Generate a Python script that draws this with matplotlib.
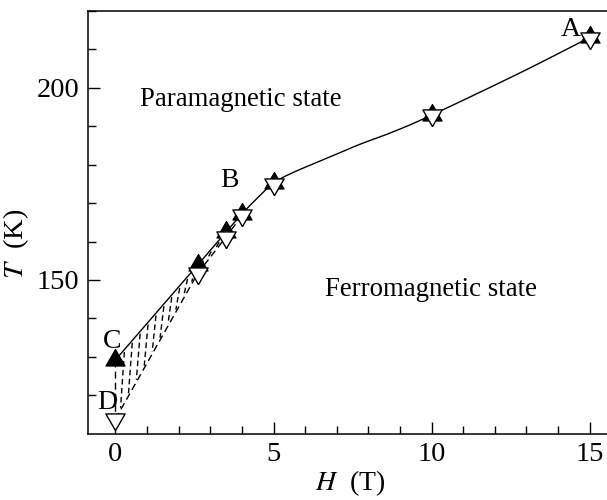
import matplotlib
matplotlib.use('Agg')
import matplotlib.pyplot as plt
import numpy as np

plt.rcParams['font.family'] = ['Liberation Serif', 'DejaVu Serif']
plt.rcParams['mathtext.fontset'] = 'stix'

# data
H_filled = [0.0, 2.6, 3.5, 4.0, 5.0, 10.0, 15.0]
T_filled = [129.2, 153.9, 162.5, 167.2, 175.2, 193.0, 213.2]
H_open = [0.0, 2.6, 3.5, 4.0, 5.0, 10.0, 15.0]
T_open = [113.8, 151.7, 161.2, 167.0, 175.0, 192.9, 213.0]

# solid phase boundary (upper)
H_curve = [0.0, 2.6, 3.5, 4.0, 4.5, 5.0, 5.6, 6.7, 7.7, 8.8, 10.0, 12.8, 15.0]
T_curve = [129.2, 153.9, 162.5, 167.2, 171.4, 175.2, 177.9, 181.7, 185.2, 188.6, 192.9, 203.9, 213.1]

# dashed lower boundary
H_lower = [0.0, 2.6, 3.5, 4.0]
T_lower = [113.8, 151.7, 161.2, 166.8]

point_labels = ['A', 'B', 'C', 'D']
label_H = [14.4, 3.62, -0.12, -0.25]
label_T = [215.3, 176.0, 133.9, 118.0]


def smooth(xs, ys, n=12):
    # Catmull-Rom through the read points, only for drawing
    p = np.column_stack([xs, ys]).astype(float)
    p = np.vstack([2 * p[0] - p[1], p, 2 * p[-1] - p[-2]])
    out = []
    for i in range(1, len(p) - 2):
        p0, p1, p2, p3 = p[i - 1], p[i], p[i + 1], p[i + 2]
        for t in np.linspace(0, 1, n, endpoint=False):
            out.append(0.5 * (2 * p1 + (-p0 + p2) * t
                              + (2 * p0 - 5 * p1 + 4 * p2 - p3) * t ** 2
                              + (-p0 + 3 * p1 - 3 * p2 + p3) * t ** 3))
    out.append(p[-2])
    out = np.array(out)
    return out[:, 0], out[:, 1]


fig = plt.figure(figsize=(6.07, 5.0), dpi=100)
ax = fig.add_axes([88 / 607, 1 - 433.6 / 500, 1 - 88 / 607, (433.6 - 11) / 500])

lw = 1.0
# straight piece C -> first bend, then smooth rest
ax.plot(H_curve[:2], T_curve[:2], color='black', linewidth=lw, zorder=2)
sx, sy = smooth(H_curve[1:], T_curve[1:])
ax.plot(sx, sy, color='black', linewidth=lw, zorder=2)
ax.plot(H_lower, T_lower, color='black', linewidth=lw, linestyle=(0, (5, 3)), zorder=2)
ax.plot([H_filled[0], H_open[0]], [T_filled[0], T_open[0]], color='black',
        linewidth=lw, linestyle=(0, (5, 3)), zorder=2)

# hatch between the two boundaries
for h in np.arange(0.28, 3.5, 0.25):
    top = np.interp(h, H_curve, T_curve)
    bot = np.interp(h - 0.12, H_lower, T_lower)
    if top - bot < 1.0:
        continue
    ax.plot([h, h - 0.12], [top - 0.6, bot + 0.6], color='black', linewidth=1.0,
            linestyle=(0, (4, 2.5)), zorder=1)

up_tri = [(0, 1), (-0.866, -0.5), (0.866, -0.5), (0, 1)]
down_tri = [(0, -1), (-0.866, 0.5), (0.866, 0.5), (0, -1)]
ax.plot(H_filled, T_filled, linestyle='none', marker=up_tri, markersize=16,
        markerfacecolor='black', markeredgecolor='black', markeredgewidth=0.8, zorder=3)
ax.plot(H_open, T_open, linestyle='none', marker=down_tri, markersize=16,
        markerfacecolor='white', markeredgecolor='black', markeredgewidth=1.0, zorder=4)

for s, x, y in zip(point_labels, label_H, label_T):
    ax.text(x, y, s, fontsize=20, ha='center', va='center')

ax.text(0.78, 196.9, 'Paramagnetic state', fontsize=19.3, ha='left', va='center')
ax.text(6.63, 147.4, 'Ferromagnetic state', fontsize=19.3, ha='left', va='center')

ax.set_xlim(-0.87, 15.55)
ax.set_ylim(110, 220)
ax.set_xticks([0, 5, 10, 15])
ax.set_xticks(np.arange(0, 16, 1), minor=True)
ax.set_yticks([150, 200])
ax.set_yticks(np.arange(120, 221, 10), minor=True)
ax.tick_params(which='major', direction='in', length=8.5, width=1.0, labelsize=20.5, pad=6)
ax.tick_params(which='minor', direction='in', length=5.5, width=1.0)

ax.spines['right'].set_visible(False)
for sp in ['left', 'bottom', 'top']:
    ax.spines[sp].set_linewidth(1.1)

ax.set_xlabel(r'$H$  (T)', fontsize=20)
ax.set_ylabel(r'$T$  (K)', fontsize=20.5)
ax.xaxis.set_label_coords((350 - 88) / 519, -(468 - 433.6) / 422.6)
ax.yaxis.set_label_coords(-(88 - 31) / 519, 0.45)

fig.savefig('out.png', dpi=100, facecolor='white')
